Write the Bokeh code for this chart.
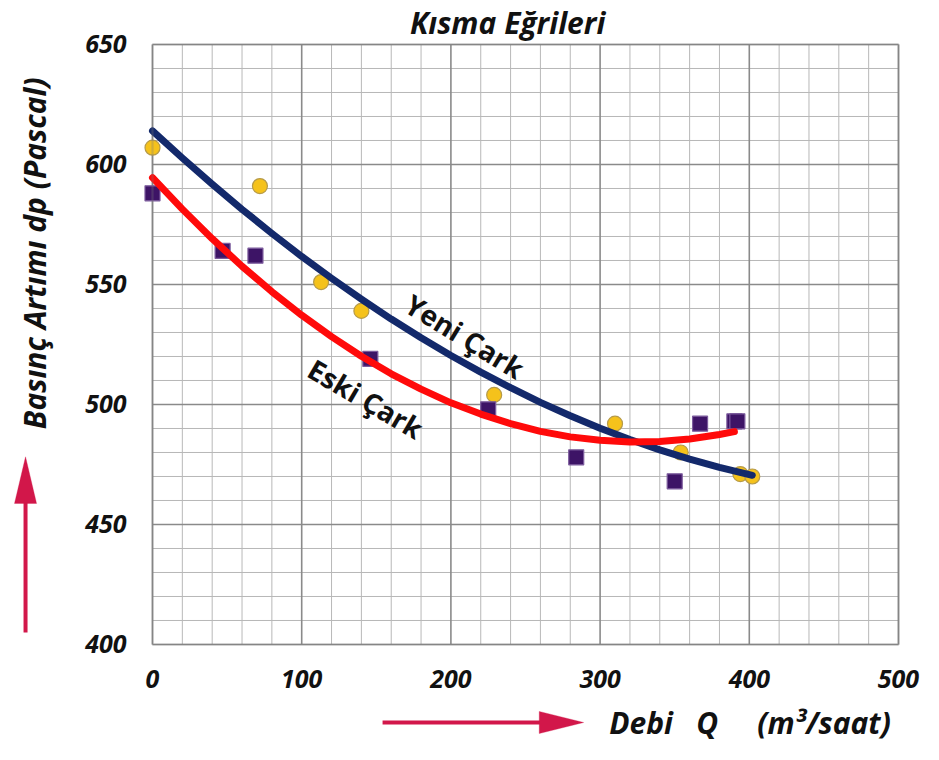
import math
from bokeh.plotting import figure
from bokeh.models import (Label, Arrow, PolyAnnotation, BoxAnnotation,
                          FixedTicker)
from bokeh.embed import file_html
from bokeh.resources import INLINE

# ---------------- data ----------------
title_text = "Kısma Eğrileri"
x_label = "Debi\u00a0\u00a0\u00a0Q\u00a0\u00a0\u00a0\u00a0\u00a0(m³/saat)"
y_label = "Basınç Artımı dp (Pascal)"
yeni_name = "Yeni Çark"
eski_name = "Eski Çark"

x_ticks = [0, 100, 200, 300, 400, 500]
y_ticks = [400, 450, 500, 550, 600, 650]
x_minor_step = 20
y_minor_step = 10

# measured points, Yeni Çark (circles)
yeni_q = [0, 72, 113, 140, 229, 310, 354, 394, 402]
yeni_dp = [607, 591, 551, 539, 504, 492, 480, 471, 470]

# measured points, Eski Çark (squares)
eski_q = [0, 47, 69, 146, 225, 284, 350, 367, 390, 392]
eski_dp = [588, 564, 562, 519, 498, 478, 468, 492, 493, 493]

# trend curves
yeni_curve_q = [0, 20, 40, 60, 80, 100, 120, 140, 160, 180, 200, 220, 240,
                260, 280, 300, 320, 340, 360, 380, 400, 402]
yeni_curve_dp = [614.0, 602.7, 591.8, 581.3, 571.3, 561.7, 552.6, 543.9, 535.6,
                 527.8, 520.4, 513.5, 507.0, 500.9, 495.3, 490.1, 485.4, 481.1,
                 477.2, 473.8, 470.8, 470.5]
eski_curve_q = [0, 20, 40, 60, 80, 100, 120, 140, 160, 180, 200, 220, 240,
                260, 280, 300, 320, 340, 360, 380, 390]
eski_curve_dp = [594.5, 581.4, 569.1, 557.6, 547.0, 537.2, 528.3, 520.1, 512.8,
                 506.4, 500.7, 496.0, 492.0, 488.8, 486.5, 485.1, 484.4, 484.6,
                 485.6, 487.5, 488.7]

# ---------------- figure ----------------
FONT = "Open Sans"
ARROW_RED = "#D2174A"
TXT = "#111111"
X0, X1 = x_ticks[0], x_ticks[-1]
Y0, Y1 = y_ticks[0], y_ticks[-1]

# the frame covers the whole canvas; the chart area is 0..500 x 400..650
p = figure(frame_width=923, frame_height=744,
           x_range=(-101.88, 516.76), y_range=(358.33, 668.33),
           output_backend="svg", toolbar_location=None, min_border=0)
p.title.visible = False
p.background_fill_color = "white"
p.border_fill_color = "white"
p.outline_line_color = None
p.xgrid.visible = False
p.ygrid.visible = False

# axes placed at the chart-area edges (tick labels only)
p.xaxis.fixed_location = Y0
p.yaxis.fixed_location = X0
p.xaxis.bounds = (X0, X1)
p.yaxis.bounds = (Y0, Y1)
p.xaxis.ticker = FixedTicker(ticks=x_ticks)
p.yaxis.ticker = FixedTicker(ticks=y_ticks)
for ax in (p.xaxis, p.yaxis):
    ax.axis_line_color = None
    ax.major_tick_line_color = None
    ax.minor_tick_line_color = None
    ax.major_tick_in = 0
    ax.major_tick_out = 0
    ax.major_label_text_font = FONT
    ax.major_label_text_font_style = "bold italic"
    ax.major_label_text_font_size = "25px"
    ax.major_label_text_color = TXT
p.yaxis.major_label_standoff = 26
p.xaxis.major_label_standoff = 26

# grid lines (minor then major) limited to the chart area
xs_minor = [v for v in range(X0, X1 + 1, x_minor_step) if v not in x_ticks]
ys_minor = [v for v in range(Y0, Y1 + 1, y_minor_step) if v not in y_ticks]
p.segment(x0=xs_minor, y0=[Y0] * len(xs_minor), x1=xs_minor, y1=[Y1] * len(xs_minor),
          line_color="#b8b8b8", line_width=1)
p.segment(x0=[X0] * len(ys_minor), y0=ys_minor, x1=[X1] * len(ys_minor), y1=ys_minor,
          line_color="#b8b8b8", line_width=1)
p.segment(x0=x_ticks, y0=[Y0] * len(x_ticks), x1=x_ticks, y1=[Y1] * len(x_ticks),
          line_color="#8a8a8a", line_width=1.6)
p.segment(x0=[X0] * len(y_ticks), y0=y_ticks, x1=[X1] * len(y_ticks), y1=y_ticks,
          line_color="#8a8a8a", line_width=1.6)
p.add_layout(BoxAnnotation(left=X0, right=X1, bottom=Y0, top=Y1,
                           fill_alpha=0, line_color="#7a7a7a", line_width=2.2))

# markers
p.scatter(yeni_q, yeni_dp, marker="circle", size=15,
          fill_color="#F5C21B", line_color="#B59A4A", line_width=1.2)
p.scatter(eski_q, eski_dp, marker="square", size=15,
          fill_color="#3D1466", line_color="#7B5A9C", line_width=1.2)

# trend curves
p.line(yeni_curve_q, yeni_curve_dp, line_color="#13296B", line_width=7,
       line_cap="round", line_join="round")
p.line(eski_curve_q, eski_curve_dp, line_color="#FF0A0A", line_width=7,
       line_cap="round", line_join="round")

# curve names
p.add_layout(Label(x=209.5, y=528.5, text=yeni_name, angle=-0.55,
                   text_font=FONT, text_font_style="bold",
                   text_font_size="28px", text_align="center",
                   text_baseline="middle", text_color=TXT))
p.add_layout(Label(x=143.0, y=502.5, text=eski_name, angle=-0.53,
                   text_font=FONT, text_font_style="bold",
                   text_font_size="28px", text_align="center",
                   text_baseline="middle", text_color=TXT))

# title
p.add_layout(Label(x=238.0, y=659.2, text=title_text,
                   text_font=FONT, text_font_style="bold italic",
                   text_font_size="30px", text_align="center",
                   text_baseline="middle", text_color=TXT))

# y axis label
p.add_layout(Label(x=-79.1, y=563.0, text=y_label, angle=math.pi / 2,
                   text_font=FONT, text_font_style="bold italic",
                   text_font_size="30px", text_align="center",
                   text_baseline="middle", text_color=TXT))

# x axis label
p.add_layout(Label(x=306.1, y=367.5, text=x_label,
                   text_font=FONT, text_font_style="bold italic",
                   text_font_size="30px", text_align="left",
                   text_baseline="middle", text_color=TXT))

# arrows (decorations)
p.add_layout(Arrow(end=None, x_start=-85.1, y_start=405, x_end=-85.1, y_end=460,
                   line_color=ARROW_RED, line_width=4))
p.add_layout(PolyAnnotation(xs=[-85.1, -92.5, -77.7], ys=[478.2, 458.75, 458.75],
                            fill_color=ARROW_RED, fill_alpha=1,
                            line_color=ARROW_RED, line_width=1))
p.add_layout(Arrow(end=None, x_start=154.2, y_start=367.5, x_end=261, y_end=367.5,
                   line_color=ARROW_RED, line_width=4))
p.add_layout(PolyAnnotation(xs=[289.0, 259.2, 259.2], ys=[367.5, 372.1, 362.9],
                            fill_color=ARROW_RED, fill_alpha=1,
                            line_color=ARROW_RED, line_width=1))

open("out.html", "w").write(file_html(p, INLINE))
